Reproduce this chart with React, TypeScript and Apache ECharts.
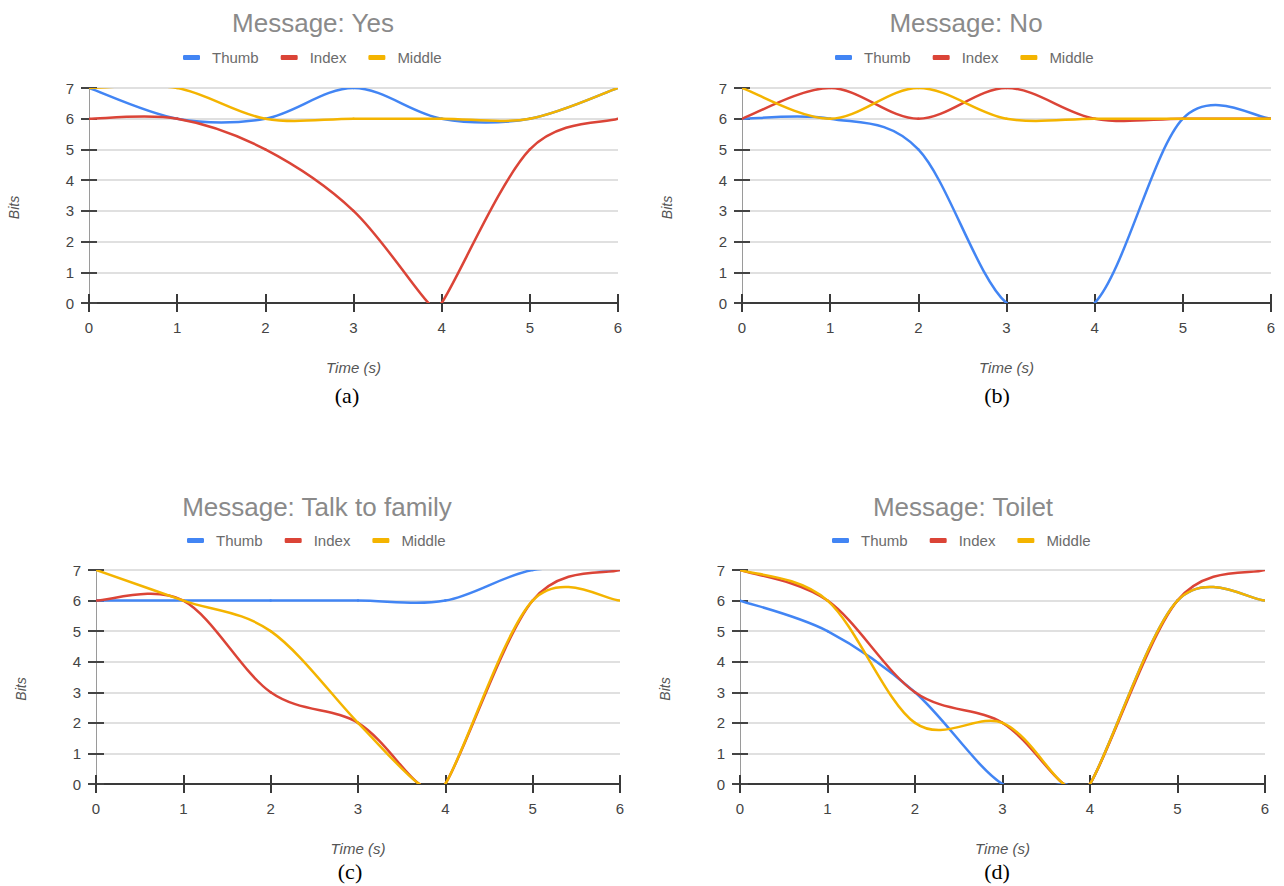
import { useEffect, useRef } from "react";
import * as echarts from "echarts";

// ---------- data (time in s, value in bits) ----------
const fingerNames = ["Thumb", "Index", "Middle"];
const fingerColors = ["#4285F4", "#DB4437", "#F4B400"];
const timeTicks = [0, 1, 2, 3, 4, 5, 6];
const bitTicks = [0, 1, 2, 3, 4, 5, 6, 7];

const panelTitles = ["Message: Yes", "Message: No", "Message: Talk to family", "Message: Toilet"];
const panelLetters = ["(a)", "(b)", "(c)", "(d)"];

const yesThumb = [[0, 7], [1, 6], [2, 6], [3, 7], [4, 6], [5, 6], [6, 7]];
const yesIndex = [[0, 6], [1, 6], [2, 5], [3, 3], [3.85, 0], [4, 0], [5, 5], [6, 6]];
const yesMiddle = [[0, 7], [1, 7], [2, 6], [3, 6], [4, 6], [5, 6], [6, 7]];

const noThumb = [[0, 6], [1, 6], [2, 5], [3, 0], [4, 0], [5, 6], [6, 6]];
const noIndex = [[0, 6], [1, 7], [2, 6], [3, 7], [4, 6], [5, 6], [6, 6]];
const noMiddle = [[0, 7], [1, 6], [2, 7], [3, 6], [4, 6], [5, 6], [6, 6]];

const talkThumb = [[0, 6], [1, 6], [2, 6], [3, 6], [4, 6], [5, 7], [6, 7]];
const talkIndex = [[0, 6], [1, 6], [2, 3], [3, 2], [3.7, 0], [4, 0], [5, 6], [6, 7]];
const talkMiddle = [[0, 7], [1, 6], [2, 5], [3, 2], [3.7, 0], [4, 0], [5, 6], [6, 6]];

const toiletThumb = [[0, 6], [1, 5], [2, 3], [3, 0], [3.7, 0], [4, 0], [5, 6], [6, 6]];
const toiletIndex = [[0, 7], [1, 6], [2, 3], [3, 2], [3.7, 0], [4, 0], [5, 6], [6, 7]];
const toiletMiddle = [[0, 7], [1, 6], [2, 2], [3, 2], [3.7, 0], [4, 0], [5, 6], [6, 6]];

const panelSeries = [
  [yesThumb, yesIndex, yesMiddle],
  [noThumb, noIndex, noMiddle],
  [talkThumb, talkIndex, talkMiddle],
  [toiletThumb, toiletIndex, toiletMiddle],
];

// ---------- layout ----------
const layouts = [
  { left: 89, top: 88, width: 529, height: 215, titleX: 313, titleY: 10, legendX: 183, legendY: 50, letterX: 347, letterY: 395 },
  { left: 742, top: 88, width: 529, height: 215, titleX: 966, titleY: 10, legendX: 835, legendY: 50, letterX: 997, letterY: 395 },
  { left: 96, top: 570, width: 524, height: 214, titleX: 317, titleY: 494, legendX: 187, legendY: 533, letterX: 350, letterY: 871 },
  { left: 740, top: 570, width: 525, height: 214, titleX: 963, titleY: 494, legendX: 832, legendY: 533, letterX: 997, letterY: 871 },
];

const SANS = "'Liberation Sans', Arial, sans-serif";

// Smooth "function" curve (Catmull-Rom through the data points), one cubic per segment,
// positioned with the axes' own scale via api.coord.
function curveSeries(name: string, color: string, data: number[][], axisIndex: number) {
  return {
    type: "custom",
    name,
    xAxisIndex: axisIndex,
    yAxisIndex: axisIndex,
    clip: true,
    data,
    encode: { x: 0, y: 1 },
    itemStyle: { color },
    renderItem: (params: any, api: any) => {
      const j = params.dataIndex;
      const n = data.length;
      if (j >= n - 1) return { type: "group", children: [] };
      const P = (idx: number) => api.coord(data[Math.max(0, Math.min(n - 1, idx))]);
      const p0 = P(j - 1);
      const p1 = P(j);
      const p2 = P(j + 1);
      const p3 = P(j + 2);
      return {
        type: "bezierCurve",
        shape: {
          x1: p1[0],
          y1: p1[1],
          cpx1: p1[0] + (p2[0] - p0[0]) / 6,
          cpy1: p1[1] + (p2[1] - p0[1]) / 6,
          cpx2: p2[0] - (p3[0] - p1[0]) / 6,
          cpy2: p2[1] - (p3[1] - p1[1]) / 6,
          x2: p2[0],
          y2: p2[1],
        },
        style: { stroke: color, lineWidth: 2.5, fill: null, lineCap: "round" },
      };
    },
  };
}

function buildOption() {
  const tMin = timeTicks[0];
  const tMax = timeTicks[timeTicks.length - 1];
  const bMin = bitTicks[0];
  const bMax = bitTicks[bitTicks.length - 1];

  const title: any[] = [];
  const legend: any[] = [];
  const grid: any[] = [];
  const xAxis: any[] = [];
  const yAxis: any[] = [];
  const series: any[] = [];
  const graphic: any[] = [];

  layouts.forEach((L, i) => {
    title.push({
      text: panelTitles[i],
      left: L.titleX,
      top: L.titleY,
      textAlign: "center",
      padding: 0,
      textStyle: { fontFamily: SANS, fontSize: 26, fontWeight: "normal", color: "#8a8a8a" },
    });
    legend.push({
      data: fingerNames,
      left: L.legendX,
      top: L.legendY,
      padding: 0,
      icon: "roundRect",
      itemWidth: 17,
      itemHeight: 5,
      itemGap: 22,
      textStyle: { fontFamily: SANS, fontSize: 15, color: "#6b6b6b", padding: [0, 0, 0, 7] },
    });
    grid.push({ left: L.left, top: L.top, width: L.width, height: L.height, containLabel: false });

    xAxis.push({
      type: "value",
      gridIndex: i,
      min: tMin,
      max: tMax,
      interval: 1,
      position: "bottom",
      axisLine: { show: true, onZero: false, lineStyle: { color: "#3a3a3a", width: 2 } },
      axisTick: { show: true, inside: false, length: 9, lineStyle: { color: "#3a3a3a", width: 2 } },
      axisLabel: { show: true, margin: 17, fontFamily: SANS, fontSize: 15, color: "#444" },
      splitLine: { show: false },
      name: "Time (s)",
      nameLocation: "middle",
      nameGap: 57,
      nameTextStyle: { fontFamily: SANS, fontSize: 15, fontStyle: "italic", color: "#555" },
    });
    xAxis.push({
      type: "value",
      gridIndex: i,
      min: tMin,
      max: tMax,
      interval: 1,
      position: "top",
      offset: -L.height,
      axisLine: { show: false, onZero: false },
      axisTick: { show: true, inside: false, length: 9, lineStyle: { color: "#3a3a3a", width: 2 } },
      axisLabel: { show: false },
      splitLine: { show: false },
    });

    yAxis.push({
      type: "value",
      gridIndex: i,
      min: bMin,
      max: bMax,
      interval: 1,
      position: "left",
      axisLine: { show: true, onZero: false, lineStyle: { color: "#9a9a9a", width: 1 } },
      axisTick: { show: true, inside: false, length: 8, lineStyle: { color: "#444", width: 2 } },
      axisLabel: { show: true, margin: 15, fontFamily: SANS, fontSize: 15, color: "#444" },
      splitLine: { show: true, lineStyle: { color: "#e0e0e0", width: 2 } },
      name: "Bits",
      nameLocation: "middle",
      nameGap: 68,
      nameRotate: 90,
      nameTextStyle: { fontFamily: SANS, fontSize: 14, fontStyle: "italic", color: "#555", padding: [0, 24, 0, 0] },
    });
    yAxis.push({
      type: "value",
      gridIndex: i,
      min: bMin,
      max: bMax,
      interval: 1,
      position: "right",
      offset: -L.width,
      axisLine: { show: false, onZero: false },
      axisTick: { show: true, inside: false, length: 8, lineStyle: { color: "#444", width: 2 } },
      axisLabel: { show: false },
      splitLine: { show: false },
    });

    panelSeries[i].forEach((data, k) => {
      series.push(curveSeries(fingerNames[k], fingerColors[k], data, 2 * i));
    });

    graphic.push({
      type: "text",
      x: L.letterX,
      y: L.letterY,
      style: {
        text: panelLetters[i],
        fontFamily: "'Liberation Serif', 'Times New Roman', serif",
        fontSize: 22,
        fill: "#000",
        align: "center",
        verticalAlign: "middle",
      },
    });
  });

  return {
    animation: false,
    backgroundColor: "#ffffff",
    textStyle: { fontFamily: SANS },
    title,
    legend,
    grid,
    xAxis,
    yAxis,
    series,
    graphic,
  };
}

export default function App() {
  const ref = useRef<HTMLDivElement>(null);
  useEffect(() => {
    if (!ref.current) return;
    const chart = echarts.init(ref.current, null, { renderer: "svg" });
    chart.setOption(buildOption() as any);
    return () => chart.dispose();
  }, []);
  return (
    <div
      ref={ref}
      style={{ position: "absolute", left: 0, top: 0, width: 1284, height: 886, background: "#fff" }}
    />
  );
}
